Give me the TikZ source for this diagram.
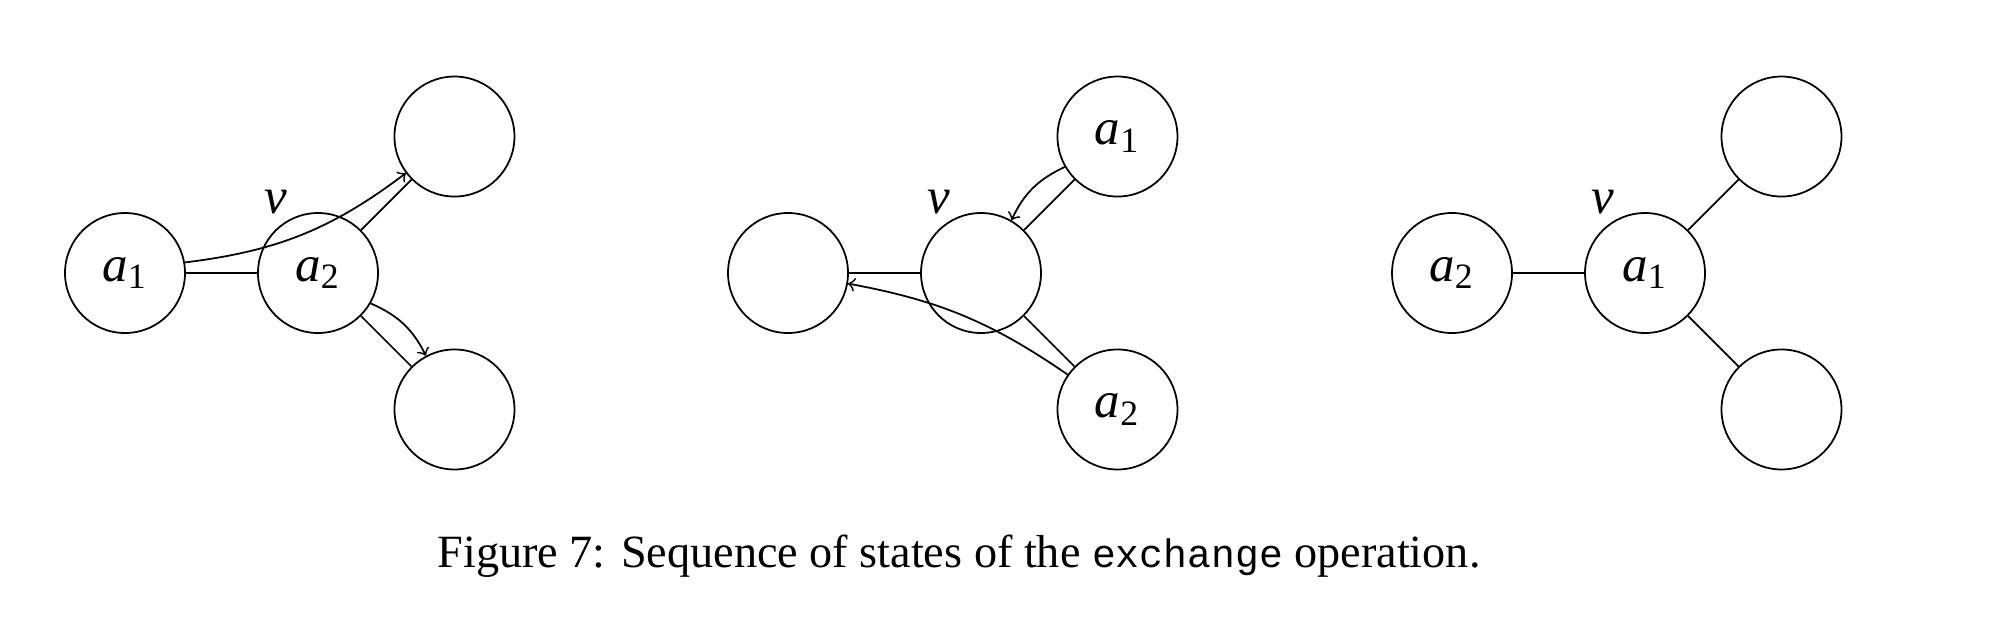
\documentclass[tikz,border=0pt]{standalone}
\usepackage{fontspec}
\setmainfont{Liberation Serif}
\setmonofont[Scale=0.86]{Liberation Mono}
\usepackage{tikz}
\usetikzlibrary{positioning, arrows}
\tikzstyle{vertex} = [circle, draw=black, line width=0.5pt, minimum size=1.2cm, inner sep=0pt, font=\fontsize{14.5}{17}\selectfont]
\tikzstyle{vlabel} = [label={[font=\fontsize{14.5}{17}\selectfont, label distance=-3pt]112:\textit{v}}]
\tikzstyle{edge} = [line width=0.5pt]
\tikzstyle{arrow} = [line width=0.5pt,->]

\begin{document}
\begin{tikzpicture}[node distance=1.93cm]
\useasboundingbox (0,0) rectangle (19.9,6.28);
\node (sAa) [vertex] at (1.25,3.55) {\textit{a}\textsubscript{1}};
\node (sAv) [vertex, vlabel, right of=sAa] {\textit{a}\textsubscript{2}};
\node (sAup) [vertex, above right of=sAv] {};
\node (sAdown) [vertex, below right of=sAv] {};

\node (sBleft) [vertex] at (7.88,3.55) {};
\node (sBv) [vertex, vlabel, right of=sBleft] {};
\node (sBa) [vertex, above right of=sBv] {\textit{a}\textsubscript{1}};
\node (sBb) [vertex, below right of=sBv] {\textit{a}\textsubscript{2}};

\node (sCa) [vertex] at (14.52,3.55) {\textit{a}\textsubscript{2}};
\node (sCv) [vertex, vlabel, right of=sCa] {\textit{a}\textsubscript{1}};
\node (sCup) [vertex, above right of=sCv] {};
\node (sCdown) [vertex, below right of=sCv] {};

\node (caption) at (9.59,0.72) {\fontsize{13.15}{16}\selectfont Figure 7: Sequence of states of the \texttt{exchange} operation.};

\draw [edge] (sAa) -- (sAv);
\draw [edge] (sAv) -- (sAup);
\draw [edge] (sAv) -- (sAdown);
\draw [arrow] (sAa.10) to[bend right=15] (sAup.217);
\draw [arrow] (sAv.-30) to[bend left=20] (sAdown.118);

\draw [edge] (sBleft) -- (sBv);
\draw [edge] (sBv) -- (sBa);
\draw [edge] (sBv) -- (sBb);
\draw [arrow] (sBa.210) to[bend right=20] (sBv.60);
\draw [arrow] (sBb.145) to[bend right=12] (sBleft.-10);

\draw [edge] (sCa) -- (sCv);
\draw [edge] (sCv) -- (sCup);
\draw [edge] (sCv) -- (sCdown);

\end{tikzpicture}
\end{document}
